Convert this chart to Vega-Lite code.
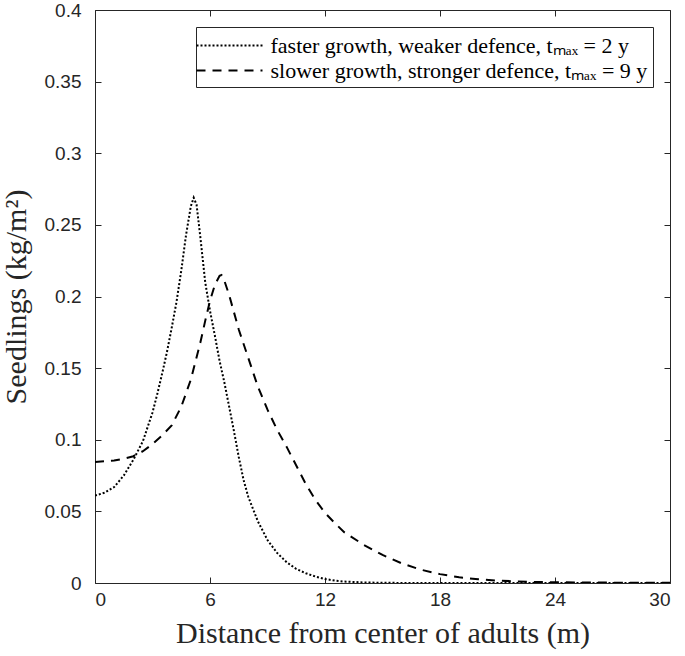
{
  "$schema": "https://vega.github.io/schema/vega-lite/v6.json",
  "autosize": {"type": "none"},
  "padding": {"left": 95, "top": 10, "right": 15, "bottom": 73},
  "width": 575,
  "height": 573,
  "background": "white",
  "config": {
    "view": {"stroke": null},
    "axis": {
      "domainColor": "#262626", "tickColor": "#262626", "labelColor": "#262626", "titleColor": "#262626",
      "labelFont": "Liberation Sans", "labelFontSize": 19, "titleFont": "Liberation Serif", "titleFontSize": 30,
      "titleFontWeight": "normal", "grid": false, "tickSize": -6, "domainWidth": 1, "tickWidth": 1, "format": "~g"
    }
  },
  "datasets": {
    "curves": [
      {"x": 0, "y": 0.061, "s": "faster growth, weaker defence, tₘₐₓ = 2 y"},
      {"x": 0.5, "y": 0.063, "s": "faster growth, weaker defence, tₘₐₓ = 2 y"},
      {"x": 1, "y": 0.067, "s": "faster growth, weaker defence, tₘₐₓ = 2 y"},
      {"x": 1.5, "y": 0.075, "s": "faster growth, weaker defence, tₘₐₓ = 2 y"},
      {"x": 2, "y": 0.086, "s": "faster growth, weaker defence, tₘₐₓ = 2 y"},
      {"x": 2.5, "y": 0.099, "s": "faster growth, weaker defence, tₘₐₓ = 2 y"},
      {"x": 3, "y": 0.119, "s": "faster growth, weaker defence, tₘₐₓ = 2 y"},
      {"x": 3.25, "y": 0.132, "s": "faster growth, weaker defence, tₘₐₓ = 2 y"},
      {"x": 3.5, "y": 0.146, "s": "faster growth, weaker defence, tₘₐₓ = 2 y"},
      {"x": 3.75, "y": 0.161, "s": "faster growth, weaker defence, tₘₐₓ = 2 y"},
      {"x": 4, "y": 0.178, "s": "faster growth, weaker defence, tₘₐₓ = 2 y"},
      {"x": 4.25, "y": 0.196, "s": "faster growth, weaker defence, tₘₐₓ = 2 y"},
      {"x": 4.5, "y": 0.218, "s": "faster growth, weaker defence, tₘₐₓ = 2 y"},
      {"x": 4.75, "y": 0.243, "s": "faster growth, weaker defence, tₘₐₓ = 2 y"},
      {"x": 5, "y": 0.263, "s": "faster growth, weaker defence, tₘₐₓ = 2 y"},
      {"x": 5.15, "y": 0.269, "s": "faster growth, weaker defence, tₘₐₓ = 2 y"},
      {"x": 5.3, "y": 0.264, "s": "faster growth, weaker defence, tₘₐₓ = 2 y"},
      {"x": 5.5, "y": 0.241, "s": "faster growth, weaker defence, tₘₐₓ = 2 y"},
      {"x": 5.75, "y": 0.210, "s": "faster growth, weaker defence, tₘₐₓ = 2 y"},
      {"x": 6, "y": 0.190, "s": "faster growth, weaker defence, tₘₐₓ = 2 y"},
      {"x": 6.25, "y": 0.173, "s": "faster growth, weaker defence, tₘₐₓ = 2 y"},
      {"x": 6.5, "y": 0.155, "s": "faster growth, weaker defence, tₘₐₓ = 2 y"},
      {"x": 6.75, "y": 0.140, "s": "faster growth, weaker defence, tₘₐₓ = 2 y"},
      {"x": 7, "y": 0.123, "s": "faster growth, weaker defence, tₘₐₓ = 2 y"},
      {"x": 7.25, "y": 0.106, "s": "faster growth, weaker defence, tₘₐₓ = 2 y"},
      {"x": 7.5, "y": 0.088, "s": "faster growth, weaker defence, tₘₐₓ = 2 y"},
      {"x": 7.75, "y": 0.072, "s": "faster growth, weaker defence, tₘₐₓ = 2 y"},
      {"x": 8, "y": 0.060, "s": "faster growth, weaker defence, tₘₐₓ = 2 y"},
      {"x": 8.5, "y": 0.043, "s": "faster growth, weaker defence, tₘₐₓ = 2 y"},
      {"x": 9, "y": 0.030, "s": "faster growth, weaker defence, tₘₐₓ = 2 y"},
      {"x": 9.5, "y": 0.021, "s": "faster growth, weaker defence, tₘₐₓ = 2 y"},
      {"x": 10, "y": 0.0145, "s": "faster growth, weaker defence, tₘₐₓ = 2 y"},
      {"x": 10.5, "y": 0.0098, "s": "faster growth, weaker defence, tₘₐₓ = 2 y"},
      {"x": 11, "y": 0.0068, "s": "faster growth, weaker defence, tₘₐₓ = 2 y"},
      {"x": 11.5, "y": 0.0045, "s": "faster growth, weaker defence, tₘₐₓ = 2 y"},
      {"x": 12, "y": 0.0028, "s": "faster growth, weaker defence, tₘₐₓ = 2 y"},
      {"x": 12.5, "y": 0.0017, "s": "faster growth, weaker defence, tₘₐₓ = 2 y"},
      {"x": 13, "y": 0.001, "s": "faster growth, weaker defence, tₘₐₓ = 2 y"},
      {"x": 14, "y": 0.0004, "s": "faster growth, weaker defence, tₘₐₓ = 2 y"},
      {"x": 15, "y": 0.00015, "s": "faster growth, weaker defence, tₘₐₓ = 2 y"},
      {"x": 16, "y": 0.00005, "s": "faster growth, weaker defence, tₘₐₓ = 2 y"},
      {"x": 18, "y": 0, "s": "faster growth, weaker defence, tₘₐₓ = 2 y"},
      {"x": 21, "y": 0, "s": "faster growth, weaker defence, tₘₐₓ = 2 y"},
      {"x": 24, "y": 0, "s": "faster growth, weaker defence, tₘₐₓ = 2 y"},
      {"x": 27, "y": 0, "s": "faster growth, weaker defence, tₘₐₓ = 2 y"},
      {"x": 30, "y": 0, "s": "faster growth, weaker defence, tₘₐₓ = 2 y"},
      {"x": 0, "y": 0.0845, "s": "slower growth, stronger defence, tₘₐₓ = 9 y"},
      {"x": 0.5, "y": 0.085, "s": "slower growth, stronger defence, tₘₐₓ = 9 y"},
      {"x": 1, "y": 0.0855, "s": "slower growth, stronger defence, tₘₐₓ = 9 y"},
      {"x": 1.5, "y": 0.0868, "s": "slower growth, stronger defence, tₘₐₓ = 9 y"},
      {"x": 2, "y": 0.0885, "s": "slower growth, stronger defence, tₘₐₓ = 9 y"},
      {"x": 2.5, "y": 0.092, "s": "slower growth, stronger defence, tₘₐₓ = 9 y"},
      {"x": 3, "y": 0.097, "s": "slower growth, stronger defence, tₘₐₓ = 9 y"},
      {"x": 3.5, "y": 0.103, "s": "slower growth, stronger defence, tₘₐₓ = 9 y"},
      {"x": 4, "y": 0.110, "s": "slower growth, stronger defence, tₘₐₓ = 9 y"},
      {"x": 4.5, "y": 0.123, "s": "slower growth, stronger defence, tₘₐₓ = 9 y"},
      {"x": 5, "y": 0.142, "s": "slower growth, stronger defence, tₘₐₓ = 9 y"},
      {"x": 5.25, "y": 0.155, "s": "slower growth, stronger defence, tₘₐₓ = 9 y"},
      {"x": 5.5, "y": 0.168, "s": "slower growth, stronger defence, tₘₐₓ = 9 y"},
      {"x": 5.75, "y": 0.183, "s": "slower growth, stronger defence, tₘₐₓ = 9 y"},
      {"x": 6, "y": 0.197, "s": "slower growth, stronger defence, tₘₐₓ = 9 y"},
      {"x": 6.25, "y": 0.208, "s": "slower growth, stronger defence, tₘₐₓ = 9 y"},
      {"x": 6.5, "y": 0.2145, "s": "slower growth, stronger defence, tₘₐₓ = 9 y"},
      {"x": 6.6, "y": 0.215, "s": "slower growth, stronger defence, tₘₐₓ = 9 y"},
      {"x": 6.75, "y": 0.211, "s": "slower growth, stronger defence, tₘₐₓ = 9 y"},
      {"x": 7, "y": 0.201, "s": "slower growth, stronger defence, tₘₐₓ = 9 y"},
      {"x": 7.5, "y": 0.177, "s": "slower growth, stronger defence, tₘₐₓ = 9 y"},
      {"x": 8, "y": 0.157, "s": "slower growth, stronger defence, tₘₐₓ = 9 y"},
      {"x": 8.5, "y": 0.137, "s": "slower growth, stronger defence, tₘₐₓ = 9 y"},
      {"x": 9, "y": 0.121, "s": "slower growth, stronger defence, tₘₐₓ = 9 y"},
      {"x": 9.5, "y": 0.107, "s": "slower growth, stronger defence, tₘₐₓ = 9 y"},
      {"x": 10, "y": 0.095, "s": "slower growth, stronger defence, tₘₐₓ = 9 y"},
      {"x": 10.5, "y": 0.082, "s": "slower growth, stronger defence, tₘₐₓ = 9 y"},
      {"x": 11, "y": 0.069, "s": "slower growth, stronger defence, tₘₐₓ = 9 y"},
      {"x": 11.5, "y": 0.058, "s": "slower growth, stronger defence, tₘₐₓ = 9 y"},
      {"x": 12, "y": 0.049, "s": "slower growth, stronger defence, tₘₐₓ = 9 y"},
      {"x": 12.5, "y": 0.042, "s": "slower growth, stronger defence, tₘₐₓ = 9 y"},
      {"x": 13, "y": 0.0355, "s": "slower growth, stronger defence, tₘₐₓ = 9 y"},
      {"x": 14, "y": 0.0268, "s": "slower growth, stronger defence, tₘₐₓ = 9 y"},
      {"x": 15, "y": 0.0196, "s": "slower growth, stronger defence, tₘₐₓ = 9 y"},
      {"x": 16, "y": 0.0137, "s": "slower growth, stronger defence, tₘₐₓ = 9 y"},
      {"x": 17, "y": 0.0093, "s": "slower growth, stronger defence, tₘₐₓ = 9 y"},
      {"x": 18, "y": 0.0062, "s": "slower growth, stronger defence, tₘₐₓ = 9 y"},
      {"x": 19, "y": 0.004, "s": "slower growth, stronger defence, tₘₐₓ = 9 y"},
      {"x": 20, "y": 0.0026, "s": "slower growth, stronger defence, tₘₐₓ = 9 y"},
      {"x": 21, "y": 0.0017, "s": "slower growth, stronger defence, tₘₐₓ = 9 y"},
      {"x": 22, "y": 0.0011, "s": "slower growth, stronger defence, tₘₐₓ = 9 y"},
      {"x": 23, "y": 0.0007, "s": "slower growth, stronger defence, tₘₐₓ = 9 y"},
      {"x": 24, "y": 0.0005, "s": "slower growth, stronger defence, tₘₐₓ = 9 y"},
      {"x": 26, "y": 0.0003, "s": "slower growth, stronger defence, tₘₐₓ = 9 y"},
      {"x": 28, "y": 0.0002, "s": "slower growth, stronger defence, tₘₐₓ = 9 y"},
      {"x": 30, "y": 0.0001, "s": "slower growth, stronger defence, tₘₐₓ = 9 y"}
    ]
  },
  "data": {"name": "curves"},
  "layer": [
    {
      "mark": {"type": "line", "strokeWidth": 2, "color": "black", "clip": true},
      "encoding": {
        "x": {"field": "x", "type": "quantitative", "scale": {"domain": [0, 30], "nice": false, "zero": false},
              "axis": {"orient": "bottom", "values": [0, 6, 12, 18, 24, 30], "title": "Distance from center of adults (m)", "labelPadding": 13, "titlePadding": 9}},
        "y": {"field": "y", "type": "quantitative", "scale": {"domain": [0, 0.4], "nice": false},
              "axis": {"orient": "left", "values": [0, 0.05, 0.1, 0.15, 0.2, 0.25, 0.3, 0.35, 0.4], "title": "Seedlings (kg/m²)", "labelPadding": 20, "titlePadding": 13}},
        "strokeDash": {"field": "s", "type": "nominal",
          "scale": {"domain": ["faster growth, weaker defence, tₘₐₓ = 2 y", "slower growth, stronger defence, tₘₐₓ = 9 y"], "range": [[2, 2], [9, 7]]},
          "legend": {"title": null, "orient": "top-right", "offset": 17, "strokeColor": "#262626", "fillColor": "white", "padding": 5,
                     "symbolType": "M-2.64,0H2.64", "symbolSize": 625, "symbolStrokeWidth": 2, "symbolStrokeColor": "black",
                     "symbolOffset": 15, "labelOffset": 27.5,
                     "labelFont": "Liberation Serif", "labelFontSize": 22, "labelColor": "black", "labelLimit": 600, "rowPadding": 0}},
        "detail": {"field": "s"}
      }
    },
    {
      "mark": {"type": "line", "strokeOpacity": 0},
      "encoding": {
        "x": {"field": "x", "type": "quantitative", "axis": {"orient": "top", "values": [0, 6, 12, 18, 24, 30], "labels": false, "title": null}},
        "y": {"field": "y", "type": "quantitative", "axis": {"orient": "right", "values": [0, 0.05, 0.1, 0.15, 0.2, 0.25, 0.3, 0.35, 0.4], "labels": false, "title": null}},
        "detail": {"field": "s"}
      }
    }
  ],
  "resolve": {"axis": {"x": "independent", "y": "independent"}}
}
